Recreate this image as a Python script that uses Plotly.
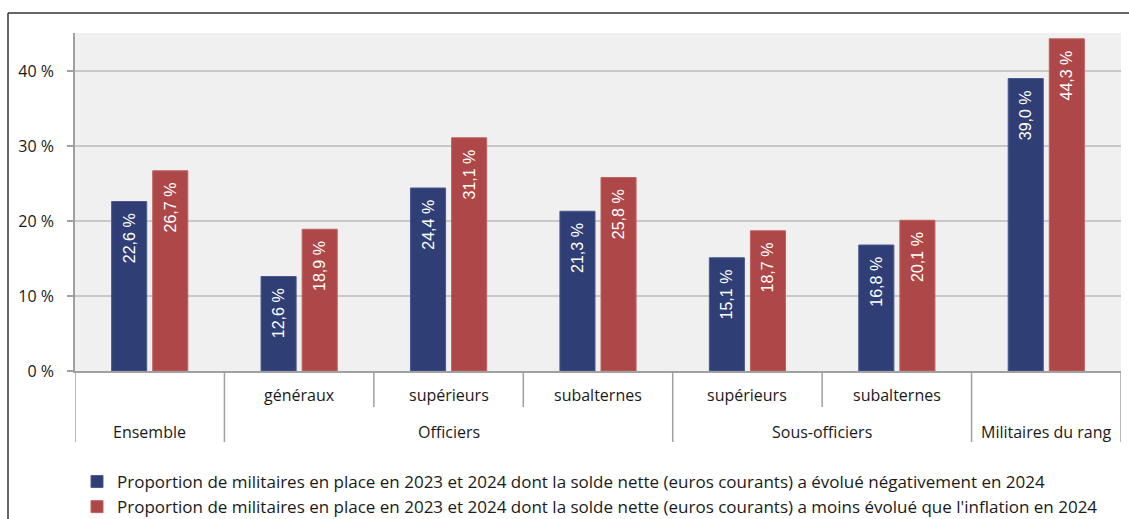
import plotly.graph_objects as go

groups = ["Ensemble", "Officiers", "Officiers", "Officiers", "Sous-officiers", "Sous-officiers", "Militaires du rang"]
subs = ["", "généraux", "supérieurs", "subalternes", "supérieurs", "subalternes", ""]
neg_values = [22.6, 12.6, 24.4, 21.3, 15.1, 16.8, 39.0]
infl_values = [26.7, 18.9, 31.1, 25.8, 18.7, 20.1, 44.3]
series_names = [
    "Proportion de militaires en place en 2023 et 2024 dont la solde nette (euros courants) a évolué négativement en 2024",
    "Proportion de militaires en place en 2023 et 2024 dont la solde nette (euros courants) a moins évolué que l'inflation en 2024",
]
y_ticks = [0, 10, 20, 30, 40]
y_ticktext = ["0 %", "10 %", "20 %", "30 %", "40 %"]

keys = [f"{g}|{s}" for g, s in zip(groups, subs)]
BLUE = "#2f3f75"
RED = "#ae4747"
LABEL_FONT = "Open Sans"
TXT = "#1a1a1a"

def fmt(v):
    return f"{v:.1f} %".replace(".", ",") + "\u00a0\u00a0"

fig = go.Figure()
for name, vals, col, lcol, grp in [
    (series_names[0], neg_values, BLUE, "#4a5a90", "a"),
    (series_names[1], infl_values, RED, "#c06262", "b"),
]:
    fig.add_trace(go.Bar(
        x=keys, y=vals, name=name, legendgroup=grp,
        marker=dict(color=col, line=dict(color=lcol, width=1)),
        text=[fmt(v) for v in vals], textposition="inside",
        insidetextanchor="end", textangle=-90,
        textfont=dict(family="Liberation Sans", size=16, color="white"),
        cliponaxis=False,
    ))

FIG_H = 540
TOP = 33
BOTTOM = 371
H = float(BOTTOM - TOP)
W = 1046.0

def py(pix):
    return (BOTTOM - pix) / H

shapes = []
# frame
shapes.append(dict(type="line", xref="paper", yref="paper",
                   x0=(8 - 75) / W, x1=1.2, y0=py(13), y1=py(13),
                   line=dict(color="#333333", width=1.5)))
shapes.append(dict(type="line", xref="paper", yref="paper",
                   x0=(8 - 75) / W, x1=(8 - 75) / W, y0=py(13), y1=py(FIG_H + 10),
                   line=dict(color="#333333", width=1.5)))
# dividers
for xb in [1.5, 2.5, 4.5]:
    shapes.append(dict(type="line", xref="x", yref="paper", x0=xb, x1=xb, y0=0, y1=py(407),
                       line=dict(color="#a0a0a0", width=1.5)))
for xb in [-0.5, 0.5, 3.5, 5.5, 6.5]:
    shapes.append(dict(type="line", xref="x", yref="paper", x0=xb, x1=xb, y0=0, y1=py(442),
                       line=dict(color="#a0a0a0", width=1.5)))

annotations = []
for i, s in enumerate(subs):
    if s:
        annotations.append(dict(x=i, y=py(395), xref="x", yref="paper", text=s,
                                xanchor="center", yanchor="middle",
                                showarrow=False, font=dict(family=LABEL_FONT, size=16, color=TXT)))
seen = []
for g in groups:
    if g not in seen:
        seen.append(g)
for g in seen:
    idx = [i for i, gg in enumerate(groups) if gg == g]
    xc = (idx[0] + idx[-1]) / 2
    annotations.append(dict(x=xc, y=py(432), xref="x", yref="paper", text=g,
                            xanchor="center", yanchor="middle",
                            showarrow=False, font=dict(family=LABEL_FONT, size=16, color=TXT)))

fig.update_layout(
    width=1129, height=FIG_H,
    margin=dict(l=75, r=8, t=TOP, b=FIG_H - BOTTOM),
    paper_bgcolor="white", plot_bgcolor="#f0f0f0",
    barmode="group", bargap=0.45, bargroupgap=0.146,
    shapes=shapes, annotations=annotations,
    showlegend=True,
    legend=dict(orientation="v", x=(77 - 75) / W, xanchor="left", y=py(464), yanchor="top",
                font=dict(family=LABEL_FONT, size=17, color=TXT),
                traceorder="grouped", tracegroupgap=0, bgcolor="rgba(0,0,0,0)"),
    font=dict(family=LABEL_FONT, size=16, color=TXT),
)
fig.update_xaxes(type="category", showticklabels=False, showgrid=False, showline=True,
                 linecolor="#a0a0a0", linewidth=1.5, ticks="", range=[-0.5, 6.5])
fig.update_yaxes(range=[0, 45.07], tickvals=y_ticks, ticktext=y_ticktext, showgrid=True,
                 gridcolor="#c8c8c8", gridwidth=1.5, showline=True, linecolor="#a0a0a0", linewidth=1.5,
                 ticks="outside", ticklen=6, tickcolor="#a0a0a0", tickwidth=1.5,
                 ticklabelstandoff=10, zeroline=False,
                 tickfont=dict(family=LABEL_FONT, size=16, color=TXT))

fig.write_html("out.html", config={"displayModeBar": False},
               post_script="document.body.style.margin='0';document.body.style.overflow='hidden';")
